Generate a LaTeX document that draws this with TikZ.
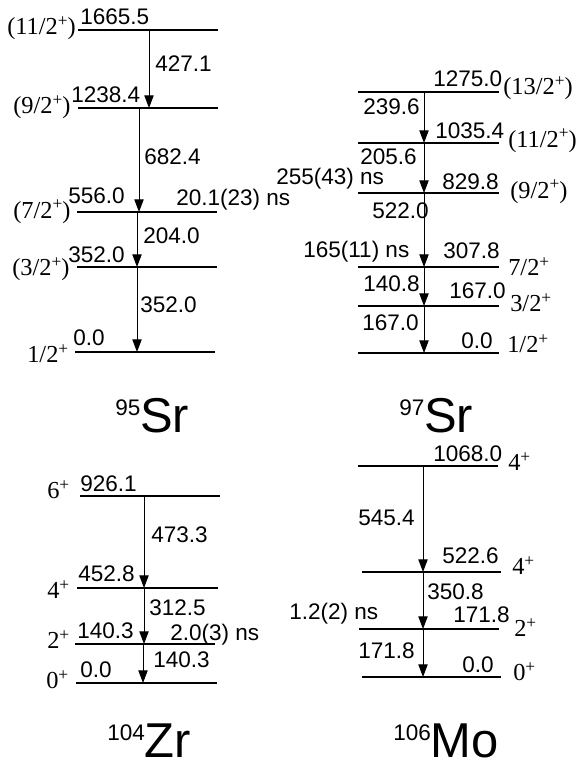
\documentclass[tikz,border=0pt]{standalone}
\usepackage{fontspec}
\setmainfont{Liberation Sans}
\newfontfamily\spinfont{Liberation Serif}
\usetikzlibrary{arrows.meta}
\newcommand\parplus{\raisebox{6pt}{\fontsize{13}{13}\selectfont+}}

\begin{document}
\begin{tikzpicture}[
  x=0.75pt, y=-0.75pt,
  level/.style={line width=0.9pt},
  gam/.style={line width=0.7pt, -{Triangle[length=9.5pt, width=7pt]}},
  elab/.style={anchor=base west, inner sep=0pt, font=\fontsize{16.9}{19}\selectfont},
  jlab/.style={anchor=base west, inner sep=0pt, font=\spinfont\fontsize{18.3}{20}\selectfont},
  nuc/.style={anchor=base west, inner sep=0pt, font=\fontsize{36.7}{40}\selectfont}
]
\useasboundingbox (0,0) rectangle (583,763);

% 95Sr
\draw[level] (78,30) coordinate (s95a) -- (218,30);
\draw[level] (78,108) coordinate (s95b) -- (218,108);
\draw[level] (77,212) coordinate (s95c) -- (217,212);
\draw[level] (77,267) coordinate (s95d) -- (217,267);
\draw[level] (75,352) coordinate (s95e) -- (215,352);

\node[elab] (s95ea) at (80,25) {1665.5};
\node[elab] (s95eb) at (71,103) {1238.4};
\node[elab] (s95ec) at (68,203) {556.0};
\node[elab] (s95ed) at (68,262) {352.0};
\node[elab] (s95ee) at (73,345) {0.0};

\node[jlab] (s95ja) at (7,35) {(11/2\parplus)};
\node[jlab] (s95jb) at (13,114) {(9/2\parplus)};
\node[jlab] (s95jc) at (13,218) {(7/2\parplus)};
\node[jlab] (s95jd) at (12,275) {(3/2\parplus)};
\node[jlab] (s95je) at (27,362) {1/2\parplus};

\draw[gam] (s95a -| 149,0) -- (s95b -| 149,0);
\draw[gam] (s95b -| 139,0) -- (s95c -| 139,0);
\draw[gam] (s95c -| 137,0) -- (s95d -| 137,0);
\draw[gam] (s95d -| 137,0) -- (s95e -| 137,0);

\node[elab] (s95g427) at (155,72) {427.1};
\node[elab] (s95g682) at (144,165) {682.4};
\node[elab] (s95g204) at (143,243) {204.0};
\node[elab] (s95g352) at (140,312) {352.0};
\node[elab] (s95tc) at (176,205) {20.1(23) ns};

\node[nuc] (s95) at (115,432) {\raisebox{12.75pt}{\fontsize{16.9}{19}\selectfont 95}Sr};

% 97Sr
\draw[level] (358,92) coordinate (s97a) -- (499,92);
\draw[level] (358,143) coordinate (s97b) -- (499,143);
\draw[level] (358,193) coordinate (s97c) -- (499,193);
\draw[level] (358,267) coordinate (s97d) -- (499,267);
\draw[level] (358,306) coordinate (s97e) -- (499,306);
\draw[level] (358,353) coordinate (s97f) -- (499,353);

\node[elab] (s97ea) at (433,87) {1275.0};
\node[elab] (s97eb) at (435,138) {1035.4};
\node[elab] (s97ec) at (442,190) {829.8};
\node[elab] (s97ed) at (443,258) {307.8};
\node[elab] (s97ee) at (449,298) {167.0};
\node[elab] (s97ef) at (461,348) {0.0};

\node[jlab] (s97ja) at (503,95) {(13/2\parplus)};
\node[jlab] (s97jb) at (508,147) {(11/2\parplus)};
\node[jlab] (s97jc) at (510,198) {(9/2\parplus)};
\node[jlab] (s97jd) at (508,275) {7/2\parplus};
\node[jlab] (s97je) at (510,311) {3/2\parplus};
\node[jlab] (s97jf) at (507,352) {1/2\parplus};

\draw[gam] (s97a -| 424,0) -- (s97b -| 424,0);
\draw[gam] (s97b -| 424,0) -- (s97c -| 424,0);
\draw[gam] (s97c -| 424,0) -- (s97d -| 424,0);
\draw[gam] (s97d -| 424,0) -- (s97e -| 424,0);
\draw[gam] (s97e -| 424,0) -- (s97f -| 424,0);

\node[elab] (s97g239) at (363,115) {239.6};
\node[elab] (s97g205) at (360,165) {205.6};
\node[elab] (s97g522) at (372,218) {522.0};
\node[elab] (s97g140) at (363,291) {140.8};
\node[elab] (s97g167) at (362,330) {167.0};
\node[elab] (s97tc) at (276,185) {255(43) ns};
\node[elab] (s97td) at (303,257) {165(11) ns};

\node[nuc] (s97) at (399,432) {\raisebox{12.75pt}{\fontsize{16.9}{19}\selectfont 97}Sr};

% 104Zr
\draw[level] (80,496) coordinate (z104a) -- (220,496);
\draw[level] (77,588) coordinate (z104b) -- (218,588);
\draw[level] (75,644) coordinate (z104c) -- (215,644);
\draw[level] (76,683) coordinate (z104d) -- (217,683);

\node[elab] (z104ea) at (80,491) {926.1};
\node[elab] (z104eb) at (78,581) {452.8};
\node[elab] (z104ec) at (77,638) {140.3};
\node[elab] (z104ed) at (80,677) {0.0};

\node[jlab] (z104ja) at (47,498) {6\parplus};
\node[jlab] (z104jb) at (47,598) {4\parplus};
\node[jlab] (z104jc) at (47,648) {2\parplus};
\node[jlab] (z104jd) at (46,688) {0\parplus};

\draw[gam] (z104a -| 144,0) -- (z104b -| 144,0);
\draw[gam] (z104b -| 144,0) -- (z104c -| 144,0);
\draw[gam] (z104c -| 143,0) -- (z104d -| 143,0);

\node[elab] (z104g473) at (151,542) {473.3};
\node[elab] (z104g312) at (149,615) {312.5};
\node[elab] (z104g140) at (153,667) {140.3};
\node[elab] (z104tc) at (170,640) {2.0(3) ns};

\node[nuc] (z104) at (107,757) {\raisebox{12.75pt}{\fontsize{16.9}{19}\selectfont 104}Zr};

% 106Mo
\draw[level] (358,466) coordinate (m106a) -- (498,466);
\draw[level] (362,572) coordinate (m106b) -- (501,572);
\draw[level] (359,629) coordinate (m106c) -- (499,629);
\draw[level] (362,677) coordinate (m106d) -- (501,677);

\node[elab] (m106ea) at (433,461) {1068.0};
\node[elab] (m106eb) at (442,563) {522.6};
\node[elab] (m106ec) at (453,622) {171.8};
\node[elab] (m106ed) at (462,672) {0.0};

\node[jlab] (m106ja) at (508,470) {4\parplus};
\node[jlab] (m106jb) at (512,574) {4\parplus};
\node[jlab] (m106jc) at (514,636) {2\parplus};
\node[jlab] (m106jd) at (513,680) {0\parplus};

\draw[gam] (m106a -| 423,0) -- (m106b -| 423,0);
\draw[gam] (m106b -| 423,0) -- (m106c -| 423,0);
\draw[gam] (m106c -| 423,0) -- (m106d -| 423,0);

\node[elab] (m106g545) at (358,525) {545.4};
\node[elab] (m106g350) at (427,599) {350.8};
\node[elab] (m106g171) at (358,658) {171.8};
\node[elab] (m106tc) at (289,619) {1.2(2) ns};

\node[nuc] (m106) at (393,757) {\raisebox{12.75pt}{\fontsize{16.9}{19}\selectfont 106}Mo};

\end{tikzpicture}
\end{document}
